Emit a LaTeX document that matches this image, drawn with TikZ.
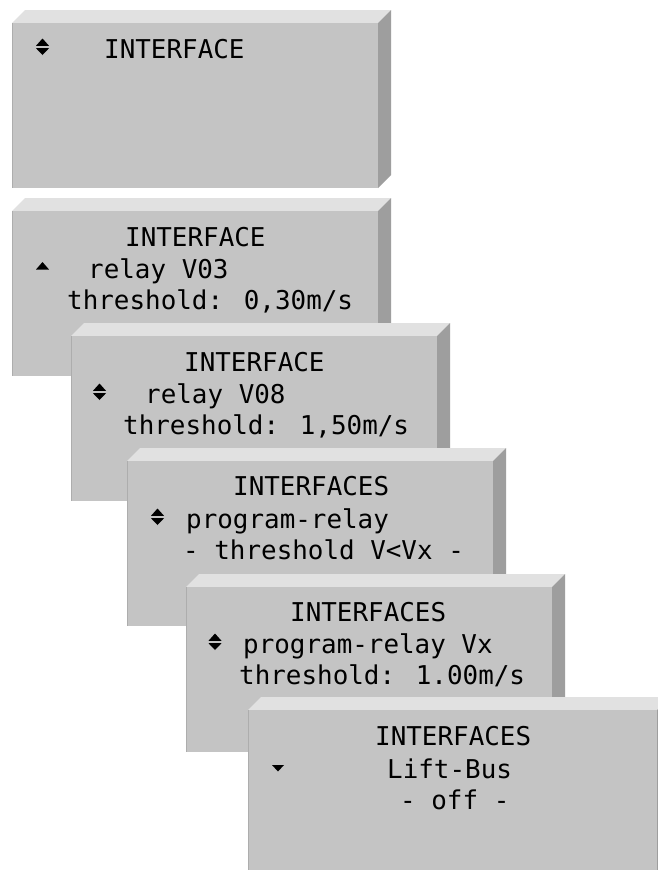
\documentclass[tikz,border=0pt]{standalone}
\usepackage{fontspec}
\newfontfamily\lcdfont{DejaVu Sans Mono}
\definecolor{facegray}{HTML}{C4C4C4}
\definecolor{topgray}{HTML}{E1E1E1}
\definecolor{sidegray}{HTML}{9E9E9E}
\definecolor{edgegray}{HTML}{ADADAD}
\tikzset{
  frontface/.style={fill=facegray},
  topface/.style={fill=topgray},
  sideface/.style={fill=sidegray},
  leftedge/.style={draw=edgegray, line width=1pt},
  lcdtext/.style={inner sep=0pt, anchor=base west, text=black,
    font=\lcdfont\fontsize{25.9}{31}\selectfont},
  marker/.style={fill=black}
}
% raised display panel: x, y of the front face's top left corner, width, height
\newcommand\lcdpanel[4]{%
  \fill[topface] (#1,#2) -- ++(13,-13) -- ++(#3,0) -- ++(-13,13) -- cycle;
  \fill[sideface] (#1+#3,#2) -- ++(13,-13) -- ++(0,#4) -- ++(-13,13) -- cycle;
  \fill[frontface] (#1,#2) rectangle ++(#3,#4);
  \draw[leftedge] (#1+0.5,#2) -- ++(0,#4);
}
% scroll markers, centred on x, y
\newcommand\markupdown[2]{%
  \fill[marker] (#1-6.5,#2-1.2) -- (#1,#2-8.5) -- (#1+6.5,#2-1.2) -- cycle;
  \fill[marker] (#1-6.5,#2+1.2) -- (#1,#2+8) -- (#1+6.5,#2+1.2) -- cycle;
}
\newcommand\markup[2]{%
  \fill[marker] (#1-6.5,#2+3.5) -- (#1,#2-4) -- (#1+6.5,#2+3.5) -- cycle;
}
\newcommand\markdown[2]{%
  \fill[marker] (#1-6,#2-3) -- (#1,#2+3.5) -- (#1+6,#2-3) -- cycle;
}
\begin{document}
\begin{tikzpicture}[x=1pt, y=-1pt]
  \clip (0,0) rectangle (658,870);
  \fill[white] (0,0) rectangle (658,870);

  % panel 1
  \lcdpanel{12}{23}{366}{165}
  \markupdown{42.5}{47}
  \node[lcdtext] (p1a) at (104,58) {INTERFACE};

  % panel 2
  \lcdpanel{12}{211}{366}{165}
  \node[lcdtext] (p2a) at (125,246) {INTERFACE};
  \markup{42.5}{266}
  \node[lcdtext] (p2b) at (88,278) {relay V03};
  \node[lcdtext] (p2c) at (67,309) {threshold: 0,30m/s};

  % panel 3
  \lcdpanel{71}{336}{366}{165}
  \node[lcdtext] (p3a) at (184,371) {INTERFACE};
  \markupdown{99.5}{392}
  \node[lcdtext] (p3b) at (145,403) {relay V08};
  \node[lcdtext] (p3c) at (123,434) {threshold: 1,50m/s};

  % panel 4
  \lcdpanel{127}{461}{366}{165}
  \node[lcdtext] (p4a) at (233,495) {INTERFACES};
  \markupdown{157.5}{517}
  \node[lcdtext] (p4b) at (186,528) {program-relay};
  \node[lcdtext] (p4c) at (183,559) {- threshold V<Vx -};

  % panel 5
  \lcdpanel{186}{587}{366}{165}
  \node[lcdtext] (p5a) at (290,621) {INTERFACES};
  \markupdown{215}{642}
  \node[lcdtext] (p5b) at (243,653) {program-relay Vx};
  \node[lcdtext] (p5c) at (239,684) {threshold: 1.00m/s};

  % panel 6
  \lcdpanel{248}{710}{409}{165}
  \node[lcdtext] (p6a) at (375,745) {INTERFACES};
  \markdown{278}{768}
  \node[lcdtext] (p6b) at (387,778) {Lift-Bus};
  \node[lcdtext] (p6c) at (400,809) {- off -};
\end{tikzpicture}
\end{document}
